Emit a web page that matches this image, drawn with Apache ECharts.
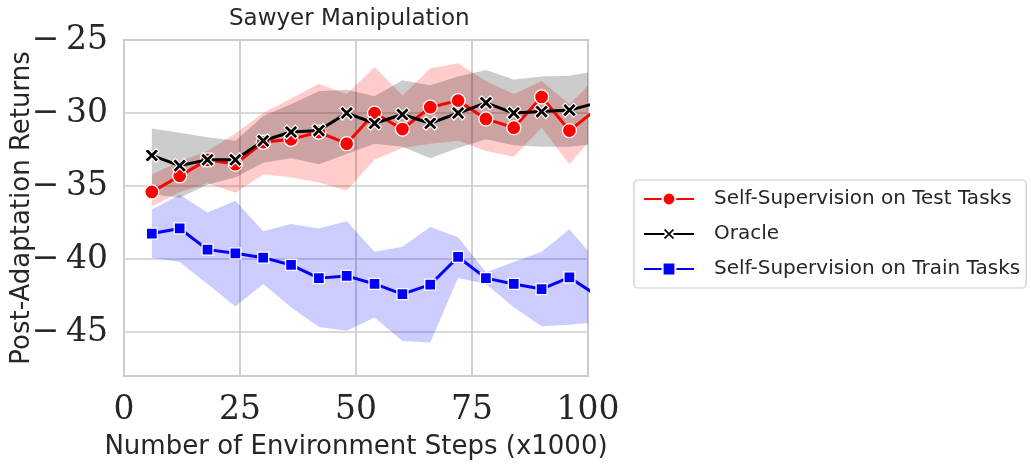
<!DOCTYPE html>
<html>
<head>
<meta charset="utf-8">
<script src="https://cdn.jsdelivr.net/npm/echarts@6/dist/echarts.min.js"></script>
<style>
html,body{margin:0;padding:0;background:#fff;}
#chart{width:1031px;height:466px;}
</style>
</head>
<body>
<div id="chart"></div>
<script>
// x positions (x1000 environment steps)
const steps = [6,12,18,24,30,36,42,48,54,60,66,72,78,84,90,96,102];

// Self-Supervision on Test Tasks
const testMean  = [-35.4,-34.3,-33.2,-33.5,-32.0,-31.8,-31.3,-32.1,-30.0,-31.1,-29.6,-29.15,-30.4,-31.0,-28.9,-31.2,-29.7];
const testUpper = [-34.2,-33.3,-32.6,-31.4,-30.0,-29.0,-28.0,-28.7,-26.85,-28.8,-26.95,-26.6,-27.8,-28.7,-27.8,-29.4,-27.5];
const testLower = [-36.4,-35.4,-34.8,-35.45,-34.2,-34.4,-34.75,-35.3,-33.2,-32.4,-32.1,-31.9,-32.6,-33.0,-31.0,-33.5,-31.3];

// Oracle
const oracleMean  = [-32.9,-33.6,-33.2,-33.2,-31.9,-31.3,-31.2,-30.0,-30.7,-30.1,-30.7,-30.0,-29.3,-30.0,-29.9,-29.8,-29.3];
const oracleUpper = [-31.05,-31.35,-31.65,-31.9,-30.2,-29.4,-28.5,-28.4,-28.85,-27.75,-28.1,-27.5,-27.05,-27.7,-27.5,-27.45,-27.1];
const oracleLower = [-35.55,-35.8,-34.9,-34.4,-33.4,-33.1,-33.5,-32.8,-32.1,-32.3,-33.1,-32.4,-31.8,-32.2,-32.3,-32.3,-32.1];

// Self-Supervision on Train Tasks
const trainMean  = [-38.25,-37.9,-39.35,-39.6,-39.9,-40.4,-41.3,-41.15,-41.7,-42.4,-41.75,-39.85,-41.3,-41.7,-42.05,-41.25,-42.5];
const trainUpper = [-36.6,-35.6,-36.8,-36.0,-38.1,-37.6,-37.9,-37.4,-39.5,-39.15,-37.8,-38.5,-40.9,-40.2,-39.5,-37.95,-40.2];
const trainLower = [-39.9,-40.2,-41.7,-43.25,-41.7,-43.3,-44.65,-44.9,-44.0,-45.6,-45.7,-41.3,-41.7,-43.3,-44.6,-44.5,-44.3];

const names = ['Self-Supervision on Test Tasks','Oracle','Self-Supervision on Train Tasks'];
const xTicks = [0,25,50,75,100];
const yTicks = [-45,-40,-35,-30,-25];

const pairs = arr => steps.map((x,i)=>[x,arr[i]]);

function band(id, up, lo, color){
  return {
    type:'custom', name:id+'_band', silent:true, z:1, clip:true,
    data: steps.map((x,i)=>[x, up[i], lo[i]]),
    encode:{x:0, y:[1,2]},
    renderItem:function(params, api){
      if (params.dataIndex !== 0) return null;
      const pts = [];
      for (let i=0;i<steps.length;i++) pts.push(api.coord([steps[i], up[i]]));
      for (let i=steps.length-1;i>=0;i--) pts.push(api.coord([steps[i], lo[i]]));
      const cs = params.coordSys;
      return {
        type:'group',
        clipPath:{type:'rect', shape:{x:cs.x, y:cs.y, width:cs.width, height:cs.height}},
        children:[{type:'polygon', shape:{points:pts}, style:{fill:color, stroke:null}}]
      };
    }
  };
}

const xShape = 'path://M2,0 L5,3 L8,0 L10,2 L7,5 L10,8 L8,10 L5,7 L2,10 L0,8 L3,5 L0,2 Z';

const chart = echarts.init(document.getElementById('chart'), null, {renderer:'canvas'});
const option = {
  animation:false,
  backgroundColor:'#ffffff',
  title:{
    text:'Sawyer Manipulation', left:224, top:3,
    textStyle:{fontFamily:'DejaVu Sans', fontSize:23, fontWeight:'normal', color:'#262626'}
  },
  legend:{
    data:names,
    orient:'vertical', left:634, top:180,
    backgroundColor:'#fff', borderColor:'#cccccc', borderWidth:1.2, borderRadius:4,
    padding:[8,6,8,9], itemGap:13, itemWidth:50, itemHeight:16,
    textStyle:{fontFamily:'DejaVu Sans', fontSize:20, color:'#262626', padding:[0,0,0,15], lineHeight:22}
  },
  grid:{left:124, right:443, top:40, bottom:90, show:true, borderColor:'#cccccc', borderWidth:2,
        containLabel:false, outerBoundsMode:'none'},
  xAxis:{
    type:'value', min:0, max:100, interval:25,
    name:'Number of Environment Steps (x1000)', nameLocation:'middle', nameGap:58, nameMoveOverlap:false,
    nameTextStyle:{fontFamily:'DejaVu Sans', fontSize:26, color:'#262626'},
    axisLine:{show:true, lineStyle:{color:'#cccccc', width:2}},
    axisTick:{show:false},
    axisLabel:{fontFamily:'DejaVu Serif', fontSize:33, color:'#262626', margin:18,
      formatter:v=> xTicks.includes(v)? String(v):''},
    splitLine:{show:true, lineStyle:{color:'#cccccc', width:1.7}}
  },
  yAxis:{
    type:'value', min:-48, max:-25, splitNumber:5,
    name:'Post-Adaptation Returns', nameLocation:'middle', nameGap:89, nameRotate:90, nameMoveOverlap:false,
    nameTextStyle:{fontFamily:'DejaVu Sans', fontSize:26, color:'#262626'},
    axisLine:{show:true, lineStyle:{color:'#cccccc', width:2}},
    axisTick:{show:false},
    axisLabel:{fontFamily:'DejaVu Serif', fontSize:33, color:'#262626', margin:16, showMinLabel:false,
      formatter:v=> yTicks.includes(v)? '\u2212\u2009'+Math.abs(v):''},
    splitLine:{show:true, lineStyle:{color:'#cccccc', width:1.7}}
  },
  series:[
    band('test', testUpper, testLower, 'rgba(255,0,0,0.2)'),
    band('oracle', oracleUpper, oracleLower, 'rgba(0,0,0,0.2)'),
    band('train', trainUpper, trainLower, 'rgba(0,0,255,0.2)'),
    {type:'line', name:names[0], data:pairs(testMean), z:3,
     lineStyle:{color:'#ff0000', width:3}, itemStyle:{color:'#ff0000', borderColor:'#ffffff', borderWidth:1.3},
     symbol:'circle', symbolSize:14, showAllSymbol:true},
    {type:'line', name:names[1], data:pairs(oracleMean), z:4,
     lineStyle:{color:'#000000', width:3}, itemStyle:{color:'#000000', borderColor:'#ffffff', borderWidth:1.2},
     symbol:xShape, symbolSize:14, showAllSymbol:true},
    {type:'line', name:names[2], data:pairs(trainMean), z:5,
     lineStyle:{color:'#0000ff', width:3}, itemStyle:{color:'#0000ff', borderColor:'#ffffff', borderWidth:1.3},
     symbol:'rect', symbolSize:11, showAllSymbol:true}
  ]
};
chart.setOption(option);
</script>
</body>
</html>
